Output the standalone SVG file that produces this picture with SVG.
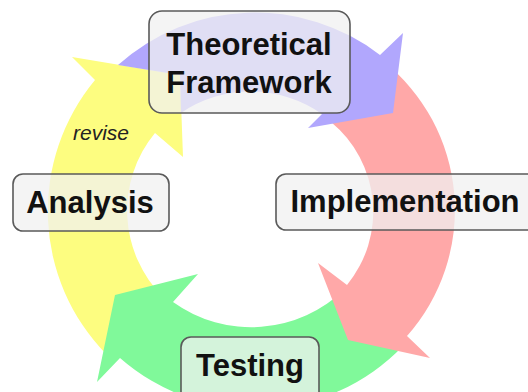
<svg xmlns="http://www.w3.org/2000/svg" width="528" height="392" viewBox="0 0 528 392">
<style>
.box{fill:#f0f0f0;fill-opacity:0.75;stroke:#5a5a5a;stroke-width:1.6}
.lbl{font-family:"Liberation Sans",Arial,sans-serif;font-weight:bold;font-size:31px;fill:#111;text-anchor:middle}
.rev{font-family:"Liberation Sans",Arial,sans-serif;font-style:italic;font-size:21px;fill:#222;text-anchor:middle}
</style>
<rect width="528" height="392" fill="#ffffff"/>
<g id="connectors">
<path id="arrow-analysis-theory" fill="#fdfd80" d="M106,354 A205,205 0 0 1 95,80 L72,57 L180,75 L183,157 L155,133 A122,122 0 0 0 163,297 Z"/>
<path id="arrow-testing-analysis" fill="#80f99a" d="M403,346 A205,205 0 0 1 120,358 L97,382 L115,295 L198,274 L173,302 A134,134 0 0 0 345,289 Z"/>
<path id="arrow-implementation-testing" fill="#ffa8a8" d="M383,61 A190,190 0 0 1 407,336 L430,358 L348,340 L318,263 L347,285 A116,116 0 0 0 331,122 Z"/>
<path id="arrow-theory-implementation" fill="#b1a7fd" d="M118,65 A205,205 0 0 1 380,55 L403,33 L393,113 L308,128 L322,114 A124,124 0 0 0 181,113 L180,75 Z"/>
<text class="rev" x="101" y="140">revise</text>
</g>
<g id="theoretical-framework">
<rect class="box" x="149" y="11" width="201" height="102" rx="13"/>
<text class="lbl" x="249" y="55">Theoretical</text>
<text class="lbl" x="249" y="93">Framework</text>
</g>
<g id="implementation">
<rect class="box" x="276" y="174" width="262" height="56" rx="10"/>
<text class="lbl" x="405" y="212">Implementation</text>
</g>
<g id="analysis">
<rect class="box" x="13" y="174" width="156" height="57" rx="10"/>
<text class="lbl" x="90" y="213">Analysis</text>
</g>
<g id="testing">
<rect class="box" x="181" y="337" width="138" height="65" rx="10"/>
<text class="lbl" x="250" y="376">Testing</text>
</g>
</svg>
